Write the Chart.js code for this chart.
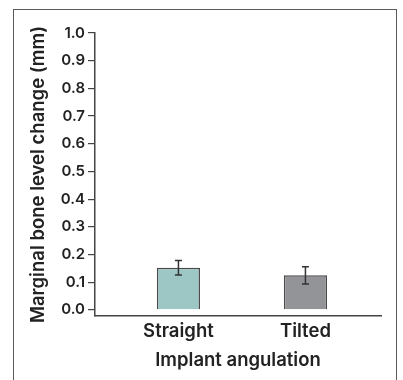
<!DOCTYPE html>
<html>
<head>
<meta charset="utf-8">
<script src="https://cdn.jsdelivr.net/npm/chart.js@4"></script>
<style>
  html, body { margin: 0; padding: 0; background: #fff; }
  #wrap { position: relative; width: 403px; height: 380px; overflow: hidden; }
  #frame {
    position: absolute; left: 13px; top: 9px; width: 384px; height: 400px;
    border: 1.5px solid #5a5a5a; border-bottom: none; box-sizing: border-box;
  }
  canvas { position: absolute; left: 0; top: 0; }
</style>
</head>
<body>
<div id="wrap">
  <div id="frame"></div>
  <canvas id="chart" width="403" height="380"></canvas>
</div>
<script>
// Marginal bone level change by implant angulation
const categories = ['Straight', 'Tilted'];
const meanChange = [0.152, 0.125];
const errChange = [0.026, 0.031];
const barColors = ['#9dc7c5', '#929497'];
const yTicks = [0, 0.1, 0.2, 0.3, 0.4, 0.5, 0.6, 0.7, 0.8, 0.9, 1.0];

const FONT = "Inter, 'Liberation Sans', sans-serif";
const INK = '#222';

// Helper: draw the error whiskers on top of each bar
const errorBars = {
    id: 'errorBars',
    afterDatasetsDraw(chart) {
        const ctx = chart.ctx;
        const y = chart.scales.y;
        const meta = chart.getDatasetMeta(0);
        ctx.save();
        ctx.strokeStyle = '#333';
        ctx.lineWidth = 1.5;
        meta.data.forEach((bar, i) => {
            const top = y.getPixelForValue(meanChange[i] + errChange[i]);
            const bot = y.getPixelForValue(meanChange[i] - errChange[i]);
            const x = bar.x;
            ctx.beginPath();
            ctx.moveTo(x, top); ctx.lineTo(x, bot);
            ctx.moveTo(x - 3.5, top); ctx.lineTo(x + 3.5, top);
            ctx.moveTo(x - 3.5, bot); ctx.lineTo(x + 3.5, bot);
            ctx.stroke();
        });
        ctx.restore();
    }
};

new Chart(document.getElementById('chart'), {
    type: 'bar',
    data: {
        datasets: [{
            data: categories.map((c, i) => ({ x: i + 1, y: meanChange[i] })),
            backgroundColor: barColors,
            borderColor: '#4a4a4a',
            borderWidth: 1.5,
            barPercentage: 0.34,
            categoryPercentage: 1
        }]
    },
    options: {
        responsive: false,
        animation: false,
        layout: { padding: { left: 0, top: 33, right: 22, bottom: 0 } },
        plugins: { legend: { display: false }, tooltip: { enabled: false } },
        scales: {
            x: {
                type: 'linear',
                offset: false,
                min: 0.343,
                max: 2.595,
                afterBuildTicks: s => { s.ticks = categories.map((c, i) => ({ value: i + 1 })); },
                afterFit: s => { s.height = 64; },
                grid: { display: false, drawTicks: false, offset: false },
                border: { display: true, color: '#444', width: 1.5 },
                ticks: {
                    padding: 4,
                    color: INK,
                    font: { family: FONT, size: 18.5, weight: 600 },
                    callback: v => categories[v - 1]
                },
                title: {
                    display: true,
                    text: 'Implant angulation',
                    color: INK,
                    font: { family: FONT, size: 18.5, weight: 600 },
                    padding: { top: 0, bottom: 8 }
                }
            },
            y: {
                min: -0.022,
                max: 1.0,
                afterBuildTicks: s => { s.ticks = yTicks.map(v => ({ value: v })); },
                afterFit: s => { s.width = 95; },
                grid: { drawOnChartArea: false, drawTicks: true, tickLength: 7, color: '#444', lineWidth: 1.2 },
                border: { display: true, color: '#444', width: 1.5 },
                ticks: {
                    padding: 3,
                    color: INK,
                    font: { family: FONT, size: 15, weight: 600 },
                    callback: v => v.toFixed(1)
                },
                title: {
                    display: true,
                    text: 'Marginal bone level change (mm)',
                    color: INK,
                    font: { family: FONT, size: 18.5, weight: 600 },
                    padding: { top: 27, bottom: 0 }
                }
            }
        }
    },
    plugins: [errorBars]
});
</script>
</body>
</html>
